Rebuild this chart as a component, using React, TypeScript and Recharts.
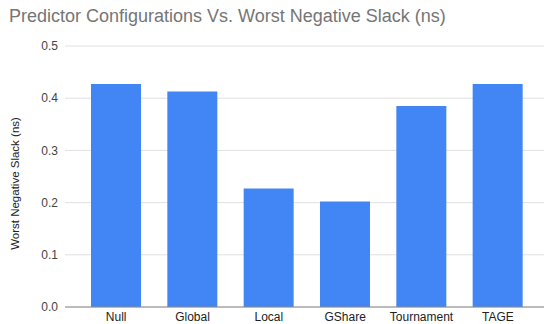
import React from 'react';
import { BarChart, Bar, XAxis, YAxis, CartesianGrid, Label } from 'recharts';

const categories = ['Null', 'Global', 'Local', 'GShare', 'Tournament', 'TAGE'];
const slackValues = [0.427, 0.413, 0.227, 0.202, 0.385, 0.427];
const yTicks = [0, 0.1, 0.2, 0.3, 0.4, 0.5];

const data = categories.map((name, i) => ({ name, value: slackValues[i] }));

const FONT = '"Liberation Sans", Arial, sans-serif';

const YLabel = (props: any) => {
  const vb = props.viewBox || { x: 0, y: 0, width: 0, height: 0 };
  const cx = vb.x + 19;
  const cy = vb.y + vb.height / 2 + 7;
  return (
    <text
      x={cx}
      y={cy}
      transform={`rotate(-90, ${cx}, ${cy})`}
      textAnchor="middle"
      fontSize={11.5}
      fill="#222"
      fontFamily={FONT}
    >
      Worst Negative Slack (ns)
    </text>
  );
};

export default function App() {
  return (
    <div style={{ position: 'absolute', left: 0, top: 0, width: 544, height: 324, background: '#fff' }}>
      <div
        style={{
          position: 'absolute',
          left: 9,
          top: 5,
          fontFamily: FONT,
          fontSize: 18,
          color: '#757575',
          whiteSpace: 'nowrap',
          lineHeight: '22px',
        }}
      >
        Predictor Configurations Vs. Worst Negative Slack (ns)
      </div>
      <BarChart
        width={544}
        height={324}
        data={data}
        margin={{ top: 46, right: 0, bottom: 0, left: 0 }}
      >
        <CartesianGrid vertical={false} stroke="#e0e0e0" strokeWidth={1} />
        <XAxis
          dataKey="name"
          height={17}
          tickLine={false}
          tickSize={0}
          tickMargin={5}
          axisLine={{ stroke: '#888', strokeWidth: 1 }}
          padding={{ left: 13, right: 8 }}
          tick={{ fontSize: 12, fill: '#222', fontFamily: FONT }}
          interval={0}
        />
        <YAxis
          width={65}
          domain={[0, 0.5]}
          ticks={yTicks}
          tickFormatter={(v: number) => v.toFixed(1)}
          tickLine={false}
          tickSize={0}
          tickMargin={7}
          axisLine={false}
          tick={{ fontSize: 12, fill: '#444', fontFamily: FONT }}
        >
          <Label content={<YLabel />} />
        </YAxis>
        <Bar dataKey="value" fill="#4285F4" barSize={50} isAnimationActive={false} />
      </BarChart>
    </div>
  );
}
